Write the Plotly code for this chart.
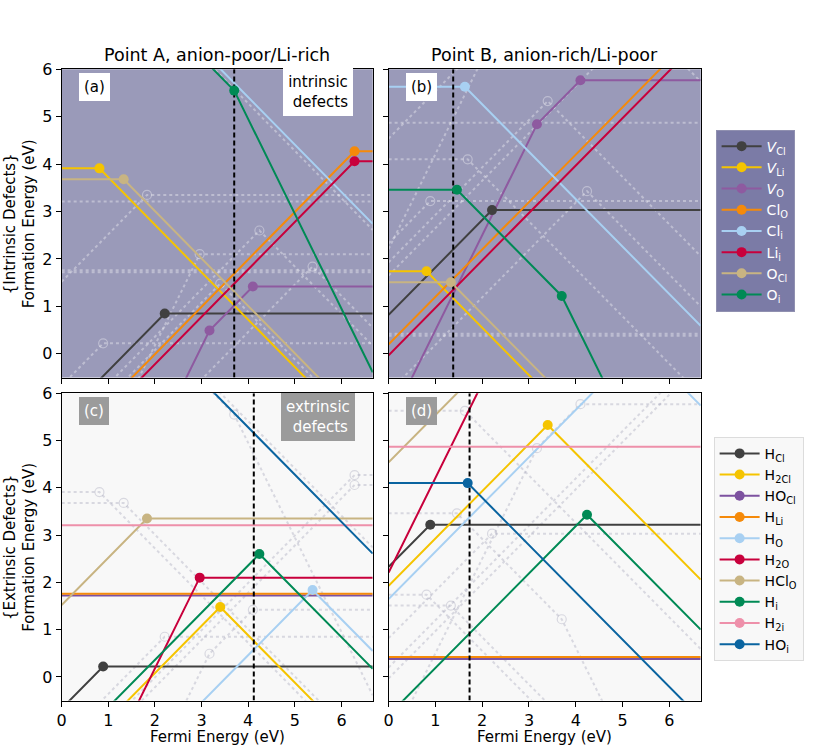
import plotly.graph_objects as go

# ---------------- data ----------------
EF_MAX = 6.67            # band gap (x range end)
Y_MIN, Y_MAX = -0.5, 6.0
x_ticks = [0, 1, 2, 3, 4, 5, 6]
y_ticks = [0, 1, 2, 3, 4, 5, 6]

# intrinsic defects
intr_labels = ["<i>V</i><sub>Cl</sub>", "<i>V</i><sub>Li</sub>", "<i>V</i><sub>O</sub>",
               "Cl<sub>O</sub>", "Cl<sub>i</sub>", "Li<sub>i</sub>",
               "O<sub>Cl</sub>", "O<sub>i</sub>"]
intr_colors = ["#404040", "#f5c400", "#8e5aa0", "#f58a0a", "#a8d0f2", "#c8003c",
               "#c8b482", "#008a55"]
intr_charges = [[1, 0], [0, -1], [2, 1, 0], [1, 0], [0, -1], [1, 0], [0, -1], [0, -1, -2]]
intr_levels = [[2.21], [0.81], [3.17, 4.10], [6.28], [1.63], [6.28], [1.33], [1.46, 3.70]]
# formation energy of the first (left-most) charge state at E_F = 0
intr_E0_A = [-1.36, 3.91, -5.85, -2.01, 7.78, -2.22, 3.68, 7.79]
intr_E0_B = [0.82, 1.74, -1.50, 0.20, 5.63, -0.03, 1.51, 3.46]

# extrinsic (hydrogen-related) defects
ext_labels = ["H<sub>Cl</sub>", "H<sub>2Cl</sub>", "HO<sub>Cl</sub>", "H<sub>Li</sub>",
              "H<sub>O</sub>", "H<sub>2O</sub>", "HCl<sub>O</sub>", "H<sub>i</sub>",
              "H<sub>2i</sub>", "HO<sub>i</sub>"]
ext_colors = ["#404040", "#f5c400", "#7d52a0", "#f58a0a", "#a8d0f2", "#c8003c",
              "#c8b482", "#008a55", "#ee90aa", "#0a64a0"]
ext_charges = [[1, 0], [1, -1], [0], [0], [1, -1], [2, 0], [1, 0], [1, -1], [0], [0, -1]]
ext_levels = [[0.89], [3.40], [], [], [5.38], [2.96], [1.83], [4.24], [], [1.69]]
ext_E0_A = [-0.67, -1.92, 1.72, 1.76, -3.54, -3.82, 1.52, -1.64, 3.21, 7.59]
ext_E0_B = [2.33, 1.93, 0.38, 0.42, 1.65, 2.21, 4.54, -0.81, 4.87, 4.10]

# self-consistent Fermi levels (dashed lines)
EF_A_int, EF_B_int, EF_A_ext, EF_B_ext = 3.70, 1.38, 4.12, 1.73

titles = ["Point A, anion-poor/Li-rich", "Point B, anion-rich/Li-poor"]
panel_tags = ["(a)", "(b)", "(c)", "(d)"]

# ---------------- helpers ----------------
FONT = "DejaVu Sans"
W, H = 813, 746
FS = 15


def envelope(E0, charges, levels):
    xs = [0.0] + list(levels) + [EF_MAX]
    ys = [E0]
    for i, q in enumerate(charges):
        ys.append(ys[-1] + q * (xs[i + 1] - xs[i]))
    return xs, ys


fig = go.Figure()

panels = [
    ("", (intr_E0_A, intr_charges, intr_levels, intr_colors),
     (ext_E0_A, ext_charges, ext_levels), EF_A_int, "rgba(255,255,255,0.35)"),
    ("2", (intr_E0_B, intr_charges, intr_levels, intr_colors),
     (ext_E0_B, ext_charges, ext_levels), EF_B_int, "rgba(255,255,255,0.35)"),
    ("3", (ext_E0_A, ext_charges, ext_levels, ext_colors),
     (intr_E0_A, intr_charges, intr_levels), EF_A_ext, "rgba(150,150,175,0.32)"),
    ("4", (ext_E0_B, ext_charges, ext_levels, ext_colors),
     (intr_E0_B, intr_charges, intr_levels), EF_B_ext, "rgba(150,150,175,0.32)"),
]

for suf, solid, faint, ef, fcol in panels:
    xa, ya = "x" + suf, "y" + suf
    # faint dotted curves of the complementary defect set
    E0s, chs, lvs = faint
    for E0, ch, lv in zip(E0s, chs, lvs):
        xs, ys = envelope(E0, ch, lv)
        fig.add_trace(go.Scatter(x=xs, y=ys, mode="lines", xaxis=xa, yaxis=ya,
                                 line=dict(color=fcol, width=2, dash="dot"),
                                 showlegend=False, hoverinfo="skip"))
        if len(xs) > 2:
            fig.add_trace(go.Scatter(x=xs[1:-1], y=ys[1:-1], mode="markers", xaxis=xa, yaxis=ya,
                                     marker=dict(symbol="circle-open", size=9, color=fcol,
                                                 line=dict(color=fcol, width=1.2)),
                                     showlegend=False, hoverinfo="skip"))
    # solid curves
    E0s, chs, lvs, cols = solid
    for E0, ch, lv, c in zip(E0s, chs, lvs, cols):
        xs, ys = envelope(E0, ch, lv)
        fig.add_trace(go.Scatter(x=xs, y=ys, mode="lines", xaxis=xa, yaxis=ya,
                                 line=dict(color=c, width=2), showlegend=False))
    # Fermi level
    fig.add_trace(go.Scatter(x=[ef, ef], y=[Y_MIN, Y_MAX], mode="lines", xaxis=xa, yaxis=ya,
                             line=dict(color="black", width=2, dash="5px,3px"),
                             showlegend=False, hoverinfo="skip"))
    # transition-level markers
    for E0, ch, lv, c in zip(E0s, chs, lvs, cols):
        xs, ys = envelope(E0, ch, lv)
        if len(xs) > 2:
            fig.add_trace(go.Scatter(x=xs[1:-1], y=ys[1:-1], mode="markers", xaxis=xa, yaxis=ya,
                                     marker=dict(color=c, size=10), showlegend=False))

# legend entries
for lab, c in zip(intr_labels, intr_colors):
    fig.add_trace(go.Scatter(x=[None], y=[None], mode="lines+markers", name=lab,
                             line=dict(color=c, width=2), marker=dict(color=c, size=10),
                             legend="legend"))
for lab, c in zip(ext_labels, ext_colors):
    fig.add_trace(go.Scatter(x=[None], y=[None], mode="lines+markers", name=lab,
                             line=dict(color=c, width=2), marker=dict(color=c, size=10),
                             legend="legend2", xaxis="x3", yaxis="y3"))

# ---------------- layout ----------------
xdom_L = [57 / W, 370 / W]
xdom_R = [386 / W, 700 / W]
ydom_T = [1 - 373 / H, 1 - 61 / H]
ydom_B = [1 - 700 / H, 1 - 389 / H]


def xaxis(dom, anchor, labels):
    return dict(domain=dom, anchor=anchor, range=[0, EF_MAX], tickvals=x_ticks,
                showticklabels=labels, ticks="outside", ticklen=5, tickcolor="black",
                showline=True, mirror=True, linecolor="black", linewidth=1,
                showgrid=False, zeroline=False, tickfont=dict(size=FS + 1, color="black"))


def yaxis(dom, anchor, labels):
    return dict(domain=dom, anchor=anchor, range=[Y_MIN, Y_MAX], tickvals=y_ticks,
                showticklabels=labels, ticks="outside", ticklen=5, tickcolor="black",
                showline=True, mirror=True, linecolor="black", linewidth=1,
                showgrid=False, zeroline=False, tickfont=dict(size=FS + 1, color="black"))


ann = []
for dom, t in zip([xdom_L, xdom_R], titles):
    ann.append(dict(text=t, x=(dom[0] + dom[1]) / 2, y=1 - 47 / H, xref="paper", yref="paper",
                    showarrow=False, font=dict(size=17.5, color="black"), xanchor="center",
                    yanchor="middle"))
for ydom, t in zip([ydom_T, ydom_B], ["{Intrinsic Defects}<br>Formation Energy (eV)",
                                       "{Extrinsic Defects}<br>Formation Energy (eV)"]):
    ann.append(dict(text=t, x=15 / W, y=(ydom[0] + ydom[1]) / 2, xref="paper", yref="paper",
                    showarrow=False, textangle=-90, font=dict(size=FS, color="black"),
                    xanchor="center", yanchor="middle"))
for dom in [xdom_L, xdom_R]:
    ann.append(dict(text="Fermi Energy (eV)", x=(dom[0] + dom[1]) / 2, y=1 - 737 / H,
                    xref="paper", yref="paper", showarrow=False,
                    font=dict(size=FS, color="black"), xanchor="center", yanchor="middle"))
for i, (suf, tag) in enumerate(zip(["", "2", "3", "4"], panel_tags)):
    top = i < 2
    ann.append(dict(text=tag, x=0.105, y=0.943, xref=f"x{suf} domain", yref=f"y{suf} domain",
                    showarrow=False, xanchor="center", yanchor="middle",
                    font=dict(size=FS, color="black" if top else "white"),
                    bgcolor="white" if top else "#9b9b9b",
                    bordercolor="white" if top else "#9b9b9b", borderpad=4))
ann.append(dict(text="intrinsic<br>&nbsp;defects", x=0.824, y=0.925, xref="x domain",
                yref="y domain", showarrow=False, xanchor="center", yanchor="middle",
                font=dict(size=FS, color="black"), bgcolor="white", bordercolor="white",
                borderpad=4))
ann.append(dict(text="extrinsic<br>&nbsp;defects", x=0.824, y=0.924, xref="x3 domain",
                yref="y3 domain", showarrow=False, xanchor="center", yanchor="middle",
                font=dict(size=FS, color="white"), bgcolor="#9b9b9b", bordercolor="#9b9b9b",
                borderpad=4))

shapes = []
for suf in ["", "2"]:
    shapes.append(dict(type="rect", xref=f"x{suf} domain", yref=f"y{suf} domain",
                       x0=0, x1=1, y0=0, y1=1, fillcolor="#9a9ab9", line=dict(width=0),
                       layer="below"))

fig.update_layout(
    width=W, height=H, margin=dict(l=0, r=0, t=0, b=0),
    paper_bgcolor="white", plot_bgcolor="#f8f8f8",
    font=dict(family=FONT, size=FS, color="black"),
    xaxis=xaxis(xdom_L, "y", False), yaxis=yaxis(ydom_T, "x", True),
    xaxis2=xaxis(xdom_R, "y2", False), yaxis2=yaxis(ydom_T, "x2", False),
    xaxis3=xaxis(xdom_L, "y3", True), yaxis3=yaxis(ydom_B, "x3", True),
    xaxis4=xaxis(xdom_R, "y4", True), yaxis4=yaxis(ydom_B, "x4", False),
    annotations=ann, shapes=shapes,
    legend=dict(x=715 / W, y=1 - 122 / H, xanchor="left", yanchor="top",
                bgcolor="#7b7ba6", bordercolor="#9090b0", borderwidth=1,
                font=dict(size=14, color="white"), tracegroupgap=0, itemwidth=40),
    legend2=dict(x=713 / W, y=1 - 433 / H, xanchor="left", yanchor="top",
                 bgcolor="#f8f8f8", bordercolor="#dcdcdc", borderwidth=1,
                 font=dict(size=14, color="black"), tracegroupgap=0, itemwidth=40),
    showlegend=True,
)

fig.write_html("out.html")
